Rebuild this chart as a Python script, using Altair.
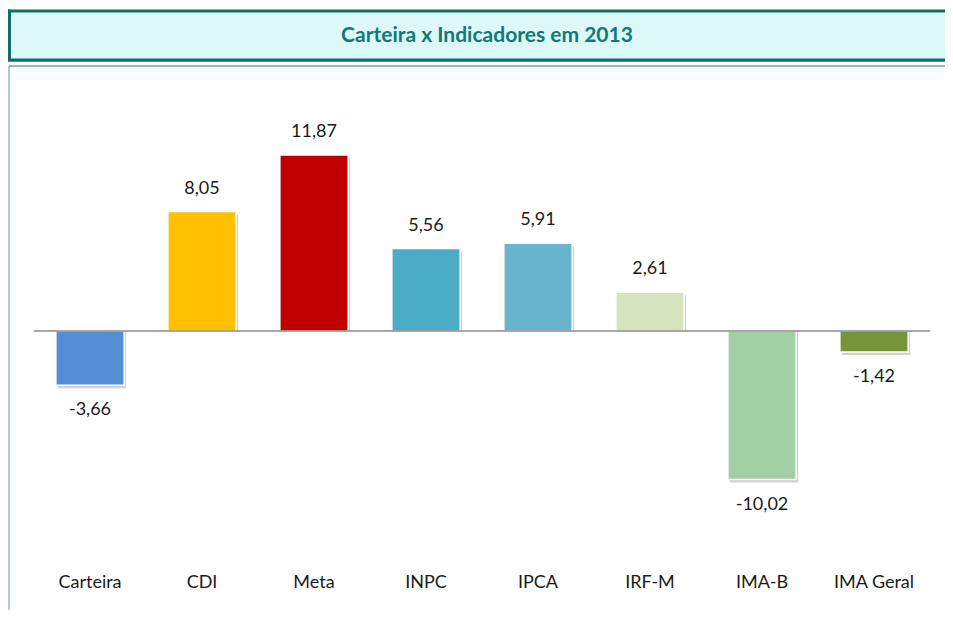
import altair as alt
import pandas as pd

categories = ["Carteira", "CDI", "Meta", "INPC", "IPCA", "IRF-M", "IMA-B", "IMA Geral"]
values = [-3.66, 8.05, 11.87, 5.56, 5.91, 2.61, -10.02, -1.42]
colors = ["#558ED5", "#FFC000", "#C00000", "#4BACC6", "#68B4CC", "#D7E4BD", "#A3CFA5", "#77933C"]
title_text = "Carteira x Indicadores em 2013"

labels = [f"{v:.2f}".replace(".", ",") for v in values]
df = pd.DataFrame({"cat": categories, "val": values, "lab": labels, "z": [0.0] * len(values)})
one = pd.DataFrame({"a": [0], "z": [0.0], "t": [title_text]})

FONT = "Lato"
W, H = 896, 504
TEAL = "#0e6e6a"

xenc = alt.X("cat:N", sort=categories,
             scale=alt.Scale(paddingInner=0.39, paddingOuter=0.195),
             axis=alt.Axis(title=None, domain=False, ticks=False, labelAngle=0,
                           labelFont=FONT, labelFontSize=18, labelPadding=3,
                           labelColor="#1a1a1a", grid=False))
yscale = alt.Scale(domain=[-16.12, 17.87], nice=False, zero=False)
yenc = alt.Y("val:Q", scale=yscale, axis=None)

base = alt.Chart(df)

shadow = base.mark_bar(color="#9a9a9a", opacity=0.45, xOffset=2, yOffset=3).encode(
    x=xenc, y=yenc, y2="z:Q")
bars = base.mark_bar(stroke="white", strokeWidth=1.5).encode(
    x=xenc, y=yenc, y2="z:Q",
    color=alt.Color("cat:N", sort=categories,
                    scale=alt.Scale(domain=categories, range=colors), legend=None))
zero = alt.Chart(one).mark_rule(color="#8a8a8a", strokeWidth=1.5).encode(
    y=alt.Y("z:Q", scale=yscale, axis=None), x=alt.value(0), x2=alt.value(W))
lab_pos = base.transform_filter("datum.val >= 0").mark_text(
    font=FONT, fontSize=18, color="#1a1a1a", baseline="middle", dy=-23).encode(
    x=xenc, y=yenc, text="lab:N")
lab_neg = base.transform_filter("datum.val < 0").mark_text(
    font=FONT, fontSize=18, color="#1a1a1a", baseline="middle", dy=25).encode(
    x=xenc, y=yenc, text="lab:N")

def rule(x, x2, y, y2, color, width):
    return alt.Chart(one).mark_rule(color=color, strokeWidth=width, clip=False).encode(
        x=alt.value(x), x2=alt.value(x2), y=alt.value(y), y2=alt.value(y2))

frame_top = rule(-25, 915, 0, 0, "#86c0bc", 2)
frame_left = rule(-25, -25, 0, 560, "#4aa39d", 1)
title_shadow = alt.Chart(one).mark_rect(color="#555555", opacity=0.5, clip=False).encode(
    x=alt.value(-23), x2=alt.value(915), y=alt.value(-53), y2=alt.value(-4))
title_fill = alt.Chart(one).mark_rect(fill="#dcf8f8", clip=False).encode(
    x=alt.value(-24.5), x2=alt.value(915), y=alt.value(-55), y2=alt.value(-6))
tb_top = rule(-26, 915, -55, -55, TEAL, 3)
tb_bot = rule(-26, 915, -6, -6, TEAL, 3)
tb_left = rule(-24.5, -24.5, -56.5, -4.5, TEAL, 3)
title = alt.Chart(one).mark_text(font=FONT, fontSize=21, fontWeight="bold", color="#117a74",
                                  baseline="middle", align="center").encode(
    x=alt.value(453), y=alt.value(-30.5), text="t:N")

chart = alt.layer(frame_top, frame_left, title_shadow, title_fill, tb_top, tb_bot, tb_left, title,
                  shadow, bars, zero, lab_pos, lab_neg).properties(
    width=W, height=H,
    autosize=alt.AutoSizeParams(type="none"),
    padding={"left": 26, "top": 58, "right": 15, "bottom": 40},
).configure(background="white").configure_view(strokeWidth=0, stroke="transparent")

chart.save("out.html", embed_options={"renderer": "svg", "actions": False})
